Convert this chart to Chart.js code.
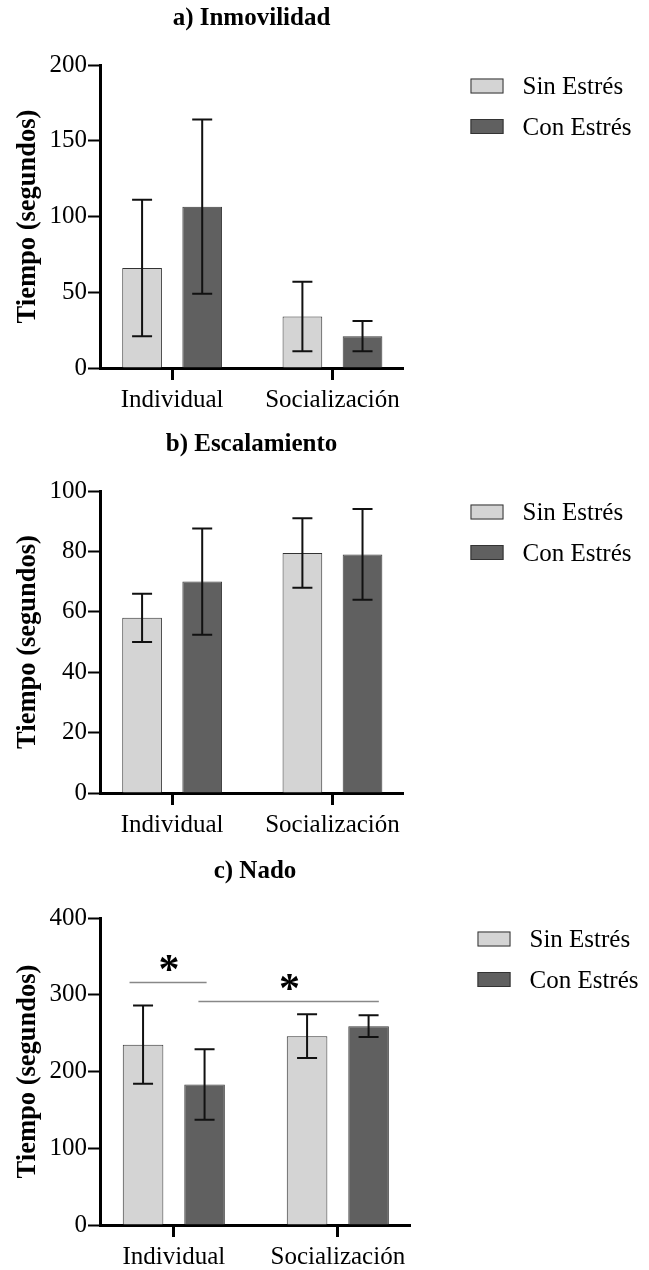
<!DOCTYPE html>
<html lang="es">
<head>
<meta charset="utf-8">
<title>Inmovilidad, escalamiento y nado</title>
<script src="https://cdn.jsdelivr.net/npm/chart.js@4.4.1/dist/chart.umd.min.js"></script>
<style>
  body { margin: 0; background: #fff; overflow: hidden; }
  canvas { display: block; }
</style>
</head>
<body>
<canvas id="chartA" width="649" height="420"></canvas>
<canvas id="chartB" width="649" height="430"></canvas>
<canvas id="chartC" width="649" height="427"></canvas>
<script>
const categorias = ['Individual', 'Socialización'];
const series = ['Sin Estrés', 'Con Estrés'];

// a) Inmovilidad: media y desviación
const inmovSin = [66, 34];
const inmovSinDE = [45, 23];
const inmovCon = [106.5, 21];
const inmovConDE = [57.5, 10];
const inmovTicks = [0, 50, 100, 150, 200];

// b) Escalamiento
const escalSin = [58, 79.5];
const escalSinDE = [8, 11.5];
const escalCon = [70, 79];
const escalConDE = [17.6, 15];
const escalTicks = [0, 20, 40, 60, 80, 100];

// c) Nado
const nadoSin = [235, 246];
const nadoSinDE = [51, 28.5];
const nadoCon = [183, 259];
const nadoConDE = [46, 14.2];
const nadoTicks = [0, 100, 200, 300, 400];

// lineas de significancia (x en indice de categoria, y en segundos)
const nadoSignif = [
  { desde: -0.27, hasta: 0.2, y: 317 },
  { desde: 0.15, hasta: 1.25, y: 292 }
];

const colorSin = '#d4d4d4';
const colorCon = '#606060';
const fuente = "'Liberation Serif', 'Times New Roman', serif";

Chart.defaults.font.family = fuente;
Chart.defaults.font.size = 25;
Chart.defaults.color = '#000';

// barras de error, titulo, leyenda y asteriscos
const decoraciones = {
  id: 'decoraciones',
  afterDatasetsDraw(chart) {
    const ctx = chart.ctx;
    const y = chart.scales.y;
    ctx.save();
    ctx.strokeStyle = '#111';
    ctx.lineWidth = 2;
    chart.data.datasets.forEach((ds, d) => {
      chart.getDatasetMeta(d).data.forEach((bar, i) => {
        const v = ds.data[i].y;
        const e = ds.errores[i];
        const arriba = y.getPixelForValue(v + e);
        const abajo = y.getPixelForValue(v - e);
        ctx.beginPath();
        ctx.moveTo(bar.x, arriba);
        ctx.lineTo(bar.x, abajo);
        ctx.moveTo(bar.x - 10, arriba);
        ctx.lineTo(bar.x + 10, arriba);
        ctx.moveTo(bar.x - 10, abajo);
        ctx.lineTo(bar.x + 10, abajo);
        ctx.stroke();
      });
    });
    ctx.restore();
  },
  afterDraw(chart, args, opts) {
    const ctx = chart.ctx;
    const area = chart.chartArea;
    ctx.save();

    // titulo centrado sobre el area del grafico
    ctx.fillStyle = '#000';
    ctx.font = 'bold 25px ' + fuente;
    ctx.textAlign = 'center';
    ctx.textBaseline = 'alphabetic';
    ctx.fillText(opts.titulo, (area.left + area.right) / 2, area.top - 40);

    // leyenda
    ctx.font = '25px ' + fuente;
    ctx.textAlign = 'left';
    chart.data.datasets.forEach((ds, i) => {
      const x = area.right + 67.5;
      const yc = area.top + 21 + i * 40.5;
      ctx.fillStyle = ds.backgroundColor;
      ctx.fillRect(x, yc - 7.5, 33, 15);
      ctx.strokeStyle = '#333';
      ctx.lineWidth = 1;
      ctx.strokeRect(x + 0.5, yc - 7, 32, 14);
      ctx.fillStyle = '#000';
      ctx.fillText(ds.label, x + 52, yc + 8);
    });

    // significancia
    const xs = chart.scales.x;
    const ys = chart.scales.y;
    (opts.signif || []).forEach(s => {
      const x1 = xs.getPixelForValue(s.desde);
      const x2 = xs.getPixelForValue(s.hasta);
      const yy = Math.round(ys.getPixelForValue(s.y)) + 0.5;
      ctx.strokeStyle = '#888';
      ctx.lineWidth = 1.5;
      ctx.beginPath();
      ctx.moveTo(x1, yy);
      ctx.lineTo(x2, yy);
      ctx.stroke();
      ctx.fillStyle = '#000';
      ctx.font = 'bold 42px ' + fuente;
      ctx.textAlign = 'center';
      ctx.fillText('*', (x1 + x2) / 2 + 1, yy);
    });
    ctx.restore();
  }
};

function crearGrafico(id, titulo, sin, sinDE, con, conDE, ticksY, margen, signif) {
  const puntos = vals => vals.map((v, i) => ({ x: i, y: v }));
  return new Chart(document.getElementById(id), {
    type: 'bar',
    data: {
      datasets: [
        {
          label: series[0],
          data: puntos(sin),
          errores: sinDE,
          backgroundColor: colorSin,
          borderColor: '#333',
          borderWidth: 1
        },
        {
          label: series[1],
          data: puntos(con),
          errores: conDE,
          backgroundColor: colorCon,
          borderColor: '#3c3c3c',
          borderWidth: 1
        }
      ]
    },
    options: {
      responsive: false,
      animation: false,
      categoryPercentage: 0.75,
      barPercentage: 0.66,
      layout: { padding: { left: 0, top: margen.top, right: margen.right, bottom: margen.bottom } },
      plugins: {
        legend: { display: false },
        tooltip: { enabled: false },
        decoraciones: { titulo: titulo, signif: signif }
      },
      scales: {
        x: {
          type: 'linear',
          offset: false,
          min: -0.45,
          max: 1.44,
          z: 1,
          afterBuildTicks: s => { s.ticks = categorias.map((c, i) => ({ value: i })); },
          ticks: {
            callback: v => categorias[v],
            maxRotation: 0,
            autoSkip: false,
            padding: 5
          },
          grid: {
            offset: false,
            drawOnChartArea: false,
            tickLength: 12,
            tickWidth: 3,
            tickColor: '#000'
          },
          border: { color: '#000', width: 3 }
        },
        y: {
          min: ticksY[0],
          max: ticksY[ticksY.length - 1],
          afterFit: s => { s.width = 100; },
          ticks: { stepSize: ticksY[1] - ticksY[0], padding: 1 },
          grid: {
            drawOnChartArea: false,
            tickLength: 12,
            tickWidth: 2,
            tickColor: '#000'
          },
          border: { color: '#000', width: 3 },
          title: {
            display: true,
            text: 'Tiempo (segundos)',
            font: { weight: 'bold', size: 26.5 },
            padding: { top: 12, bottom: 0 }
          }
        }
      }
    },
    plugins: [decoraciones]
  });
}

crearGrafico('chartA', 'a) Inmovilidad', inmovSin, inmovSinDE, inmovCon, inmovConDE, inmovTicks,
  { top: 65, right: 246, bottom: 0 }, []);
crearGrafico('chartB', 'b) Escalamiento', escalSin, escalSinDE, escalCon, escalConDE, escalTicks,
  { top: 71, right: 246, bottom: 5 }, []);
crearGrafico('chartC', 'c) Nado', nadoSin, nadoSinDE, nadoCon, nadoConDE, nadoTicks,
  { top: 68, right: 239, bottom: 0 }, nadoSignif);
</script>
</body>
</html>
